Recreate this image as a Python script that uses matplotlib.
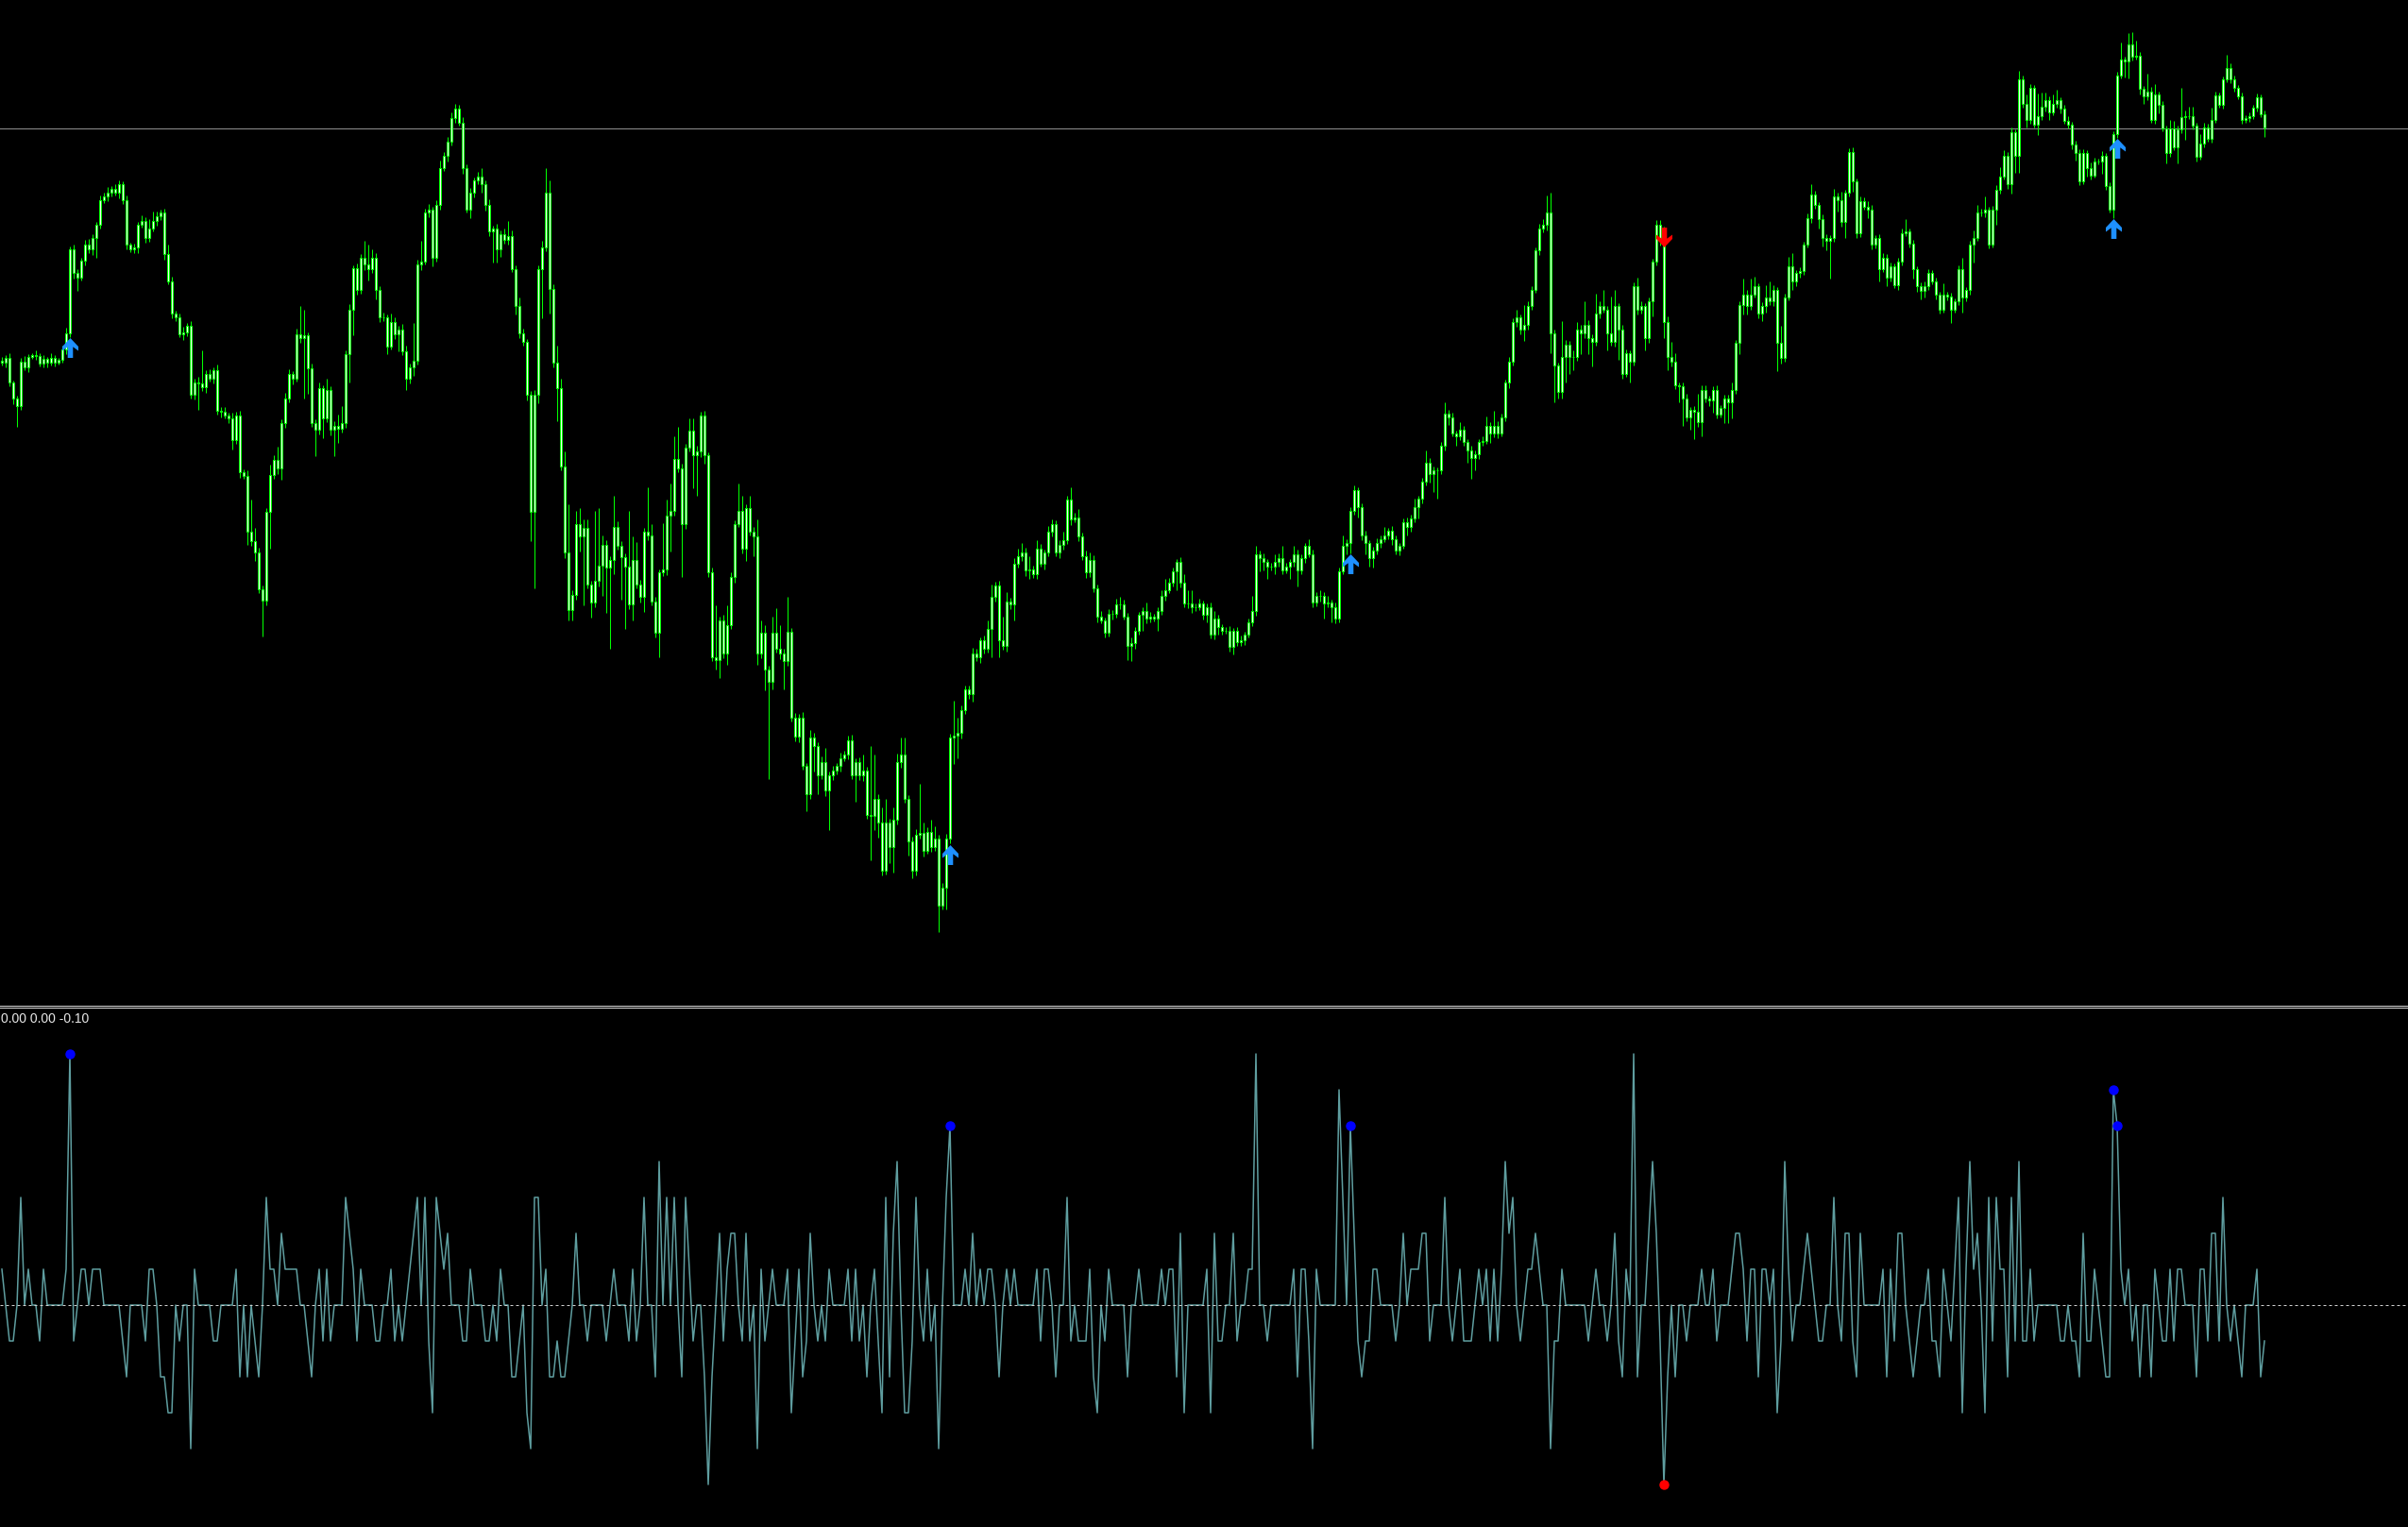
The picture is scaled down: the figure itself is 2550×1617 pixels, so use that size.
import numpy as np
import matplotlib
matplotlib.use("Agg")
import matplotlib.pyplot as plt
from matplotlib.path import Path
from matplotlib.lines import Line2D

# ---------------- data ----------------
first_open = 688

closes = [
    686,691,665,648,640,687,681,692,694,693, 685,690,686,691,686,689,700,717,806,781, 776,794,811,806,818,832,858,862,866,870, 866,875,858,811,806,808,832,836,818,828, 836,841,845,801,772,738,734,716,718,725,
    652,665,664,660,674,669,678,635,634,630, 627,604,630,570,566,507,497,485,446,434, 528,567,583,574,622,648,674,669,716,712, 715,680,622,615,659,627,657,615,619,616, 622,695,742,786,763,797,790,785,797,763,
    734,734,703,729,716,721,698,669,681,688, 790,793,845,848,797,853,892,905,920,945, 955,940,892,848,866,879,883,875,853,825, 828,806,822,816,820,785,746,717,708,652, 528,652,785,808,866,764,686,659,576,485,
    424,440,515,502,511,451,432,455,471,493, 469,477,512,492,480,470,430,477,451,438, 507,503,433,400,464,467,524,529,584,574, 515,596,614,588,592,630,588,464,374,371, 413,378,408,459,515,529,489,532,507,502,
    378,400,361,348,400,383,378,370,401,310, 290,310,259,229,289,280,249,263,233,249, 254,259,267,271,286,249,263,249,254,207, 206,224,199,148,199,173,202,263,271,224, 179,148,186,188,169,189,173,182,111,130,
    182,289,291,294,318,340,335,378,374,392, 383,404,438,450,392,386,433,430,473,481, 485,466,467,462,489,473,485,507,515,485, 493,498,541,520,522,502,481,464,477,447, 417,413,400,420,420,430,430,417,386,389,
    402,419,423,415,417,415,423,439,445,453, 465,475,453,431,431,427,427,431,419,427, 398,415,406,402,402,385,402,390,392,398, 411,423,483,479,475,470,470,475,479,466, 470,475,483,466,479,492,483,432,439,439,
    431,432,427,415,465,492,495,529,551,533, 503,495,479,487,495,499,503,508,499,487, 492,517,512,521,533,542,560,580,568,572, 572,598,632,628,611,608,615,602,593,585, 589,602,603,619,611,619,611,628,665,687,
    729,734,721,726,746,763,805,828,832,845, 717,683,655,692,705,692,692,721,717,726, 712,708,738,746,742,717,708,746,721,674, 696,687,767,742,746,712,751,793,832,815, 729,692,687,662,661,648,628,636,634,623,
    657,648,646,657,631,638,648,644,657,707, 747,758,746,758,767,738,746,755,751,763, 707,691,755,788,772,781,783,811,839,864, 853,838,818,815,818,862,858,835,866,909, 878,823,857,851,848,811,818,785,797,776,
    788,768,793,823,825,812,785,767,762,767, 781,772,758,742,758,756,742,751,785,755, 763,811,818,845,845,848,811,848,869,883, 905,875,930,905,986,960,943,977,938,947, 957,964,951,960,964,955,942,938,917,908,
    878,908,892,884,899,899,905,873,848,928, 990,1007,1005,1023,1010,1011,976,968,973,943, 970,959,934,908,934,914,933,946,947,947, 937,904,918,935,923,943,969,959,986,998, 986,977,968,943,945,947,956,967,949,935,
]

upper_wick = [
    4,3,5,2,3,4,6,3,2,5, 3,4,2,5,3,2,4,6,3,5, 4,3,5,6,4,3,5,4,6,3, 5,4,3,5,2,4,3,6,4,10, 10,5,3,4,10,5,3,4,6,3,
    5,4,6,35,4,5,3,6,4,5, 3,6,4,5,3,6,34,14,5,4, 4,11,5,14,4,6,5,3,6,30, 27,3,5,4,6,3,12,4,5,12, 18,4,6,3,5,4,18,21,9,5,
    4,5,3,9,5,4,6,6,4,40, 5,22,4,6,3,5,8,4,5,6, 5,4,6,4,5,3,5,9,4,6, 3,5,4,6,16,6,4,9,5,3, 4,5,4,7,26,13,5,18,10,16,
    51,5,14,17,9,9,4,74,61,10, 5,4,33,6,5,4,59,25,19,5, 4,47,12,5,3,49,17,29,24,34, 5,4,13,13,6,4,5,3,5,55, 4,6,21,5,4,29,16,4,13,5,
    18,13,8,4,17,26,25,5,37,4, 5,4,6,3,8,5,4,6,15,4, 5,3,6,4,5,6,4,5,17,4, 73,47,5,16,25,4,13,9,18,18, 4,5,6,52,11,5,13,13,4,5,
    5,4,37,16,5,4,4,6,5,3, 5,9,13,4,5,25,10,4,6,8, 10,5,14,4,9,5,3,6,5,4, 5,9,4,13,5,9,4,6,8,5, 4,6,3,5,4,6,8,5,4,6,
    4,3,4,9,5,3,4,6,12,5, 4,3,5,9,14,14,4,5,3,4, 5,8,4,3,4,5,3,4,5,3, 4,16,9,4,5,3,4,8,5,13, 4,3,9,5,4,3,7,5,4,6,
    4,7,3,5,4,11,4,4,5,3, 4,5,3,4,5,4,9,3,5,4, 3,4,5,4,9,3,4,13,5,4, 3,4,12,4,5,3,8,4,3,5, 4,3,5,10,4,16,5,4,3,5,
    4,8,3,21,5,4,3,5,6,18, 21,4,3,38,5,4,7,8,5,25, 5,4,21,5,17,4,39,17,3,5, 4,3,4,9,5,3,4,3,5,5, 15,6,16,9,3,4,5,3,4,19,
    5,5,3,4,5,3,4,4,8,3, 4,17,5,17,10,3,4,13,17,5, 3,18,4,10,14,3,4,3,5,11, 4,3,5,4,3,8,4,9,3,4, 5,3,5,4,6,5,3,4,5,4,
    4,3,4,5,13,3,4,3,4,5, 4,3,4,3,12,3,4,3,4,12, 3,4,8,8,4,14,3,4,5,10, 6,4,5,3,9,4,10,4,3,24, 15,8,4,10,11,3,4,5,3,4,
    4,4,3,6,4,3,5,3,4,3, 4,18,3,12,13,16,4,3,19,5, 11,3,4,3,9,8,4,31,6,10, 10,3,10,5,4,13,4,3,3,14, 5,4,3,4,3,4,3,4,3,4,
]

lower_wick = [
    3,5,4,6,22,4,3,5,2,4, 3,4,5,3,4,2,3,5,4,6, 14,3,5,4,6,21,4,3,5,4, 3,6,4,5,3,4,6,3,5,4, 3,5,4,6,3,5,4,3,6,4,
    4,5,28,4,6,3,5,4,6,3, 5,10,4,6,3,14,5,9,4,38, 5,39,4,6,12,5,4,6,3,5, 64,27,4,28,5,21,4,6,28,15, 4,5,30,27,5,4,6,12,4,10,
    5,4,8,3,5,18,4,12,5,9, 4,6,3,5,9,4,5,3,6,4, 5,3,6,3,9,5,4,9,6,5, 33,14,8,4,5,3,9,5,4,6, 31,81,9,52,4,26,5,35,4,6,
    11,11,5,16,73,4,16,5,6,32, 48,86,15,4,45,66,5,17,4,6, 16,5,4,5,26,4,6,38,5,4, 56,5,4,35,43,6,9,5,4,10, 19,5,12,4,6,3,5,13,4,21,
    12,5,22,103,8,4,6,30,5,4, 5,6,4,18,5,27,20,4,6,42, 5,4,6,3,5,4,28,5,6,4, 47,15,16,5,4,17,27,5,6,4, 15,8,5,4,6,3,5,4,28,4,
    23,5,28,24,6,4,5,8,4,6, 5,4,30,5,18,4,6,5,17,4, 5,6,9,4,5,3,6,4,5,4, 6,5,4,6,3,5,4,6,5,4, 6,3,5,4,6,4,5,3,15,16,
    6,4,17,5,4,3,13,4,5,3, 4,20,5,4,5,6,4,3,5,8, 4,5,8,4,3,5,8,4,4,5, 3,4,5,14,9,13,4,8,5,4, 3,13,5,17,4,5,3,5,4,6,
    16,4,16,5,4,3,9,11,4,11, 5,12,9,10,4,5,3,4,6,4, 5,3,9,5,4,12,5,4,9,19, 30,4,5,8,3,10,4,4,13,22, 13,5,4,3,10,4,5,3,4,6,
    4,5,5,12,5,4,3,5,4,6, 21,39,7,7,27,18,14,4,22,5, 17,26,4,5,3,18,4,5,32,5, 3,22,4,5,4,13,5,16,4,5, 17,14,5,4,17,29,4,13,29,5,
    15,4,6,13,4,3,16,22,17,4, 12,10,9,4,3,5,8,7,4,5, 30,6,4,3,9,5,5,4,3,5, 4,10,9,10,40,4,12,5,17,4, 11,5,4,3,9,5,4,13,3,9,
    4,3,5,4,3,4,10,6,9,7, 4,3,5,4,3,4,14,3,4,16, 4,5,19,3,4,5,4,3,16,4, 3,5,10,18,18,4,8,4,3,11, 4,5,8,3,4,5,3,4,5,8,
    4,3,9,4,2,3,13,4,3,9, 4,3,17,18,4,3,6,8,4,3, 4,9,3,11,4,3,17,4,24,3, 4,5,3,4,3,4,3,3,4,3, 4,4,3,4,3,4,3,4,3,10,
]

indicator = [
    1,0,-1,-1,0,3,0,1,0,0, -1,1,0,0,0,0,0,1,7,-1, 0,1,1,0,1,1,1,0,0,0, 0,0,-1,-2,0,0,0,0,-1,1, 1,0,-2,-2,-3,-3,0,-1,0,0,
    -4,1,0,0,0,0,-1,-1,0,0, 0,0,1,-2,0,-2,0,-1,-2,0, 3,1,1,0,2,1,1,1,1,0, 0,-1,-2,0,1,-1,1,-1,0,0, 0,3,2,1,-1,1,0,0,0,-1,
    -1,0,0,1,-1,0,-1,0,1,2, 3,0,3,-1,-3,3,2,1,2,0, 0,0,-1,-1,1,0,0,0,-1,-1, 0,-1,1,0,0,-2,-2,-1,0,-3, -4,3,3,0,1,-2,-2,-1,-2,-2,
    -1,0,2,0,0,-1,0,0,0,0, -1,0,1,0,0,0,-1,1,-1,0, 3,0,0,-2,4,0,3,0,3,0, -2,3,1,-1,0,0,-2,-5,-2,0, 2,-1,1,2,2,0,-1,2,-1,0,
    -4,1,-1,0,1,0,0,0,1,-3, -1,1,-2,-1,2,0,-1,0,-1,1, 0,0,0,0,1,-1,1,-1,0,-2, 0,1,-1,-3,3,-2,2,4,0,-3, -3,-1,3,0,-1,1,-1,0,-4,0,
    3,5,0,0,0,1,0,2,0,1, 0,1,1,0,-2,0,1,0,1,0, 0,0,0,0,1,-1,1,1,0,-2, 0,0,3,-1,0,-1,-1,-1,1,-2, -3,0,-1,1,0,0,0,0,-2,0,
    0,1,0,0,0,0,0,1,0,1, 1,-2,2,-3,0,0,0,0,0,1, -3,2,-1,-1,0,0,2,-1,0,0, 1,1,7,0,0,-1,0,0,0,0, 0,0,1,-2,1,1,-1,-4,1,0,
    0,0,0,0,6,3,0,5,2,-1, -2,-1,-1,1,1,0,0,0,0,-1, 0,2,0,1,1,1,2,2,-1,0, 0,0,3,0,-1,0,1,-1,-1,-1, 0,1,0,1,-1,1,-1,1,4,2,
    3,0,-1,0,1,1,2,1,0,0, -4,-1,-1,1,0,0,0,0,0,0, -1,0,1,0,0,-1,0,2,-1,-2, 1,0,7,-2,0,0,2,4,2,-1, -5,-2,0,-2,0,0,-1,0,0,0,
    1,0,0,1,-1,0,0,0,1,2, 2,1,-1,1,1,-2,1,1,0,1, -3,-1,4,1,-1,0,0,1,2,1, 0,-1,-1,0,0,3,0,-1,2,2, -1,-2,2,0,0,0,0,0,1,-2,
    1,-1,2,2,0,-1,-2,-1,0,0, 1,-1,-1,-2,1,0,-1,1,3,-3, 1,4,1,2,0,-3,3,-1,3,1, 1,-2,3,-1,4,-1,-1,1,-1,0, 0,0,0,0,0,-1,-1,0,-1,-1,
    -2,2,-1,-1,1,0,-1,-2,-2,6, 5,1,0,1,-1,0,-2,0,0,-2, 1,0,-1,-1,1,-1,1,1,0,0, 0,-2,1,1,-1,2,2,-1,3,0, -1,0,-1,-2,0,0,0,1,-2,-1,
]

buy_signal_bars = [18, 251, 357, 559, 560]
sell_signal_bars = [440]
level_price = 934
indicator_label = "0.00 0.00 -0.10"

# ---------------- derived series ----------------
n = min(len(closes), len(upper_wick), len(lower_wick), len(indicator))
closes_a = np.array(closes[:n], dtype=float)
opens_a = np.concatenate([[first_open], closes_a[:-1]])
highs_a = np.maximum(opens_a, closes_a) + np.array(upper_wick[:n], dtype=float)
lows_a = np.minimum(opens_a, closes_a) - np.array(lower_wick[:n], dtype=float)
ind_a = np.array(indicator[:n], dtype=float)
x = np.arange(n)

# ---------------- figure ----------------
W, H = 2550, 1617
fig = plt.figure(figsize=(W / 100, H / 100), dpi=100, facecolor="black")

price_h = 1063
ind_top = 1068
ax = fig.add_axes([0, 1 - price_h / H, 1, price_h / H], facecolor="black")
ax2 = fig.add_axes([0, 0, 1, (H - ind_top) / H], facecolor="black")

bar_px = 4.0
for a in (ax, ax2):
    a.set_xlim(-0.5, W / bar_px - 0.5)
    for s in a.spines.values():
        s.set_visible(False)
    a.set_xticks([])
    a.set_yticks([])

ax.set_ylim(7, 1070)
ax2.set_ylim(-6.184, 8.263)

green = "#00ff00"
# wicks
ax.vlines(x, lows_a, highs_a, colors=green, linewidth=0.75, zorder=2)
# bodies
ax.bar(x, np.abs(closes_a - opens_a), bottom=np.minimum(opens_a, closes_a),
       width=0.55, color="white", edgecolor=green, linewidth=0.75, zorder=3)

# level line
ax.axhline(level_price, color="#8c8c8c", linewidth=0.75, zorder=1)

# arrows
up_verts = [(0, 10.5), (8.5, 1.5), (8.5, -3.0), (2.8, 1.2), (2.8, -10.5),
            (-2.8, -10.5), (-2.8, 1.2), (-8.5, -3.0), (-8.5, 1.5), (0, 10.5)]
codes = [Path.MOVETO] + [Path.LINETO] * (len(up_verts) - 2) + [Path.CLOSEPOLY]
up_path = Path(up_verts, codes)
down_path = Path([(vx, -vy) for vx, vy in up_verts], codes)

buy_idx = np.array(buy_signal_bars)
sell_idx = np.array(sell_signal_bars)
ax.plot(buy_idx, lows_a[buy_idx] - 1 - 10.5, linestyle="none", marker=up_path,
        markersize=15.1, color="#1e90ff", markeredgewidth=0, zorder=5)
ax.plot(sell_idx, highs_a[sell_idx] - 1 - 10.5, linestyle="none", marker=down_path,
        markersize=15.1, color="#ff0000", markeredgewidth=0, zorder=5)

# indicator
ax2.plot(x, ind_a, color="#5f9ea0", linewidth=1.1, zorder=2)
ax2.axhline(0, color="#d0d0d0", linewidth=0.72, linestyle=(0, (3, 3)), zorder=3)
ax2.plot(buy_idx, ind_a[buy_idx], "o", color="#0000ff", markersize=6.5, zorder=4)
ax2.plot(sell_idx, ind_a[sell_idx], "o", color="#ff0000", markersize=6.5, zorder=4)

# separator double line
for yp in (1064.5, 1066.6):
    fig.add_artist(Line2D([0, 1], [1 - yp / H, 1 - yp / H], transform=fig.transFigure,
                          color="#d8d8d8", linewidth=0.72))

fig.text(1 / W, 1 - 1079 / H, indicator_label, color="#e8e8e8", fontsize=10,
         family=["Liberation Sans", "DejaVu Sans"], ha="left", va="center")

fig.savefig("out.png", dpi=100, facecolor="black")
